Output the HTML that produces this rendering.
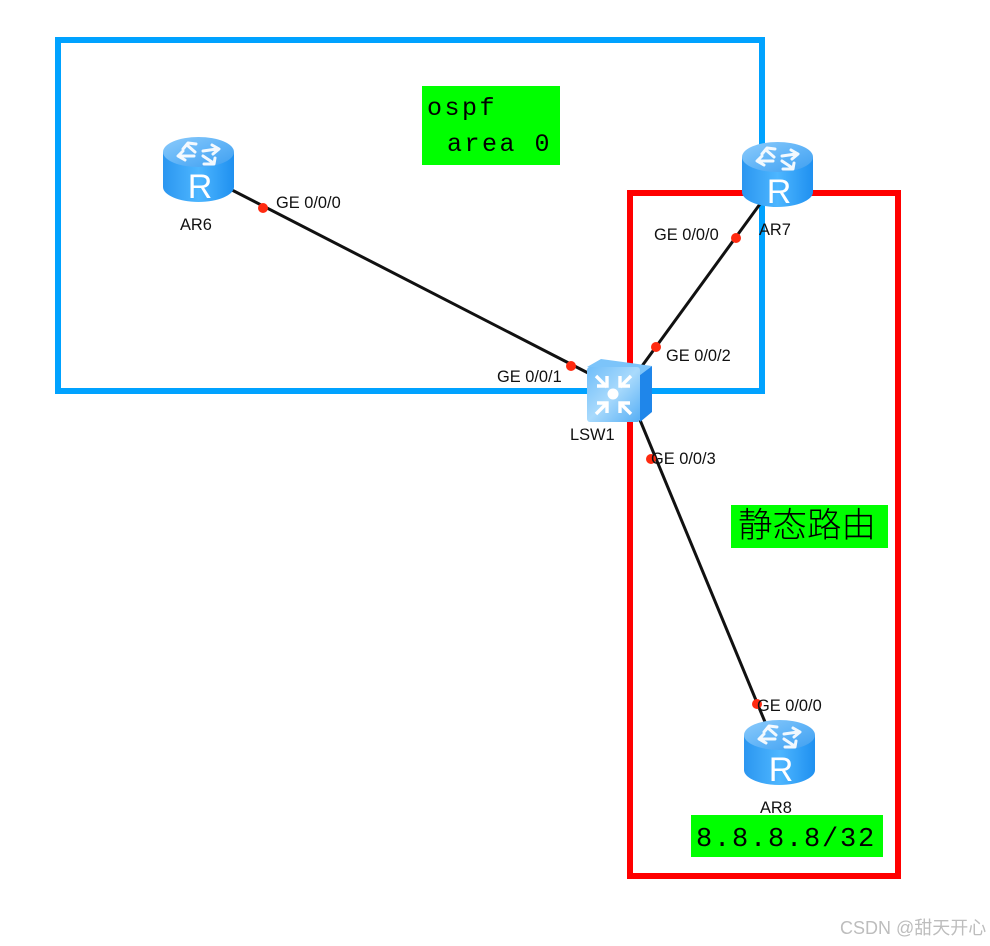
<!DOCTYPE html>
<html><head><meta charset="utf-8"><style>
html,body{margin:0;padding:0;background:#fff}
svg{display:block}
.l{font-family:"Liberation Sans",sans-serif;font-size:16.4px;fill:#111}
.m{font-family:"Liberation Mono","DejaVu Sans Mono",monospace;fill:#000}
</style></head><body>
<svg width="990" height="946" viewBox="0 0 990 946" xmlns="http://www.w3.org/2000/svg">
<defs>
<linearGradient id="b" x1="0" x2="1" y1="0" y2="0"><stop offset="0" stop-color="#2b96f0"/><stop offset=".5" stop-color="#4db6ff"/><stop offset="1" stop-color="#1f90f0"/></linearGradient>
<linearGradient id="t" x1="0" x2="1" y1="0" y2="1"><stop offset="0" stop-color="#8ccbfb"/><stop offset=".55" stop-color="#5fb3f7"/><stop offset="1" stop-color="#3f9ff0"/></linearGradient>
<linearGradient id="f" x1="0" x2="1" y1="0" y2="1"><stop offset="0" stop-color="#6fbdf9"/><stop offset=".5" stop-color="#a9dafc"/><stop offset="1" stop-color="#55aef5"/></linearGradient>
<g id="r">
<path d="M0 15V50C0 58 16 65 35.5 65S71 58 71 50V15Z" fill="url(#b)"/>
<ellipse cx="35.5" cy="15" rx="35.5" ry="15" fill="url(#t)"/>
<g stroke="#fff" stroke-width="3" fill="none" stroke-linecap="round" stroke-linejoin="round" opacity=".92">
<path d="M32 15L24 8M20 12L25 6L33 7"/><path d="M40 14L54 12M49 8L56 12L50 17"/><path d="M31 19L17 19M20 14L15 19L22 23"/><path d="M40 19L49 25M41 27L51 27L52 21"/>
</g>
</g>
</defs>
<rect x="58" y="40" width="704" height="351" fill="none" stroke="#00a2ff" stroke-width="6"/>
<rect x="630" y="193" width="268" height="683" fill="none" stroke="#ff0000" stroke-width="6"/>
<g stroke="#111" stroke-width="3" fill="none">
<line x1="230" y1="189" x2="590" y2="374"/>
<line x1="760" y1="204" x2="642" y2="366"/>
<line x1="640" y1="420" x2="765" y2="722"/>
</g>
<rect x="422" y="86" width="138" height="79" fill="#00ff00"/>
<text class="m" font-size="25" letter-spacing="2.5" x="427" y="115">ospf</text>
<text class="m" font-size="25" letter-spacing="2.5" x="447" y="151">area 0</text>
<rect x="731" y="505" width="157" height="43" fill="#00ff00"/>
<text x="738" y="537" font-size="34.5" font-family="'Liberation Sans','WenQuanYi Zen Hei','Noto Sans CJK SC',sans-serif" font-weight="200" fill="#000">静态路由</text>
<rect x="691" y="815" width="192" height="42" fill="#00ff00"/>
<text class="m" font-size="27" letter-spacing="1.8" x="696" y="846">8.8.8.8/32</text>
<use href="#r" x="163" y="137"/>
<use href="#r" x="742" y="142"/>
<use href="#r" x="744" y="720"/>
<g font-family="'Liberation Sans',sans-serif" font-size="34" fill="#fff" text-anchor="middle">
<text x="200" y="198">R</text><text x="779" y="203">R</text><text x="781" y="781">R</text>
</g>
<polygon points="587,367 601,359 652,366 640,375" fill="#7cc4fa"/>
<polygon points="640,375 652,366 652,412 640,422" fill="#1f86ea"/>
<rect x="587" y="367" width="53" height="55" rx="3" fill="url(#f)"/>
<circle cx="613" cy="394" r="5.5" fill="#fff"/>
<g stroke="#fff" stroke-width="3.4" fill="none">
<path d="M596 376L607 387M597 386H607V376"/><path d="M631 376L620 387M630 386H620V376"/><path d="M596 414L607 403M597 403H607V413"/><path d="M631 414L620 403M630 403H620V413"/>
</g>
<g fill="#ff2a10">
<circle cx="263" cy="208" r="5"/><circle cx="571" cy="366" r="5"/><circle cx="736" cy="238" r="5"/><circle cx="656" cy="347" r="5"/><circle cx="651" cy="459" r="5"/><circle cx="757" cy="704" r="5"/>
</g>
<text class="l" x="276" y="208">GE 0/0/0</text>
<text class="l" x="654" y="240">GE 0/0/0</text>
<text class="l" x="666" y="361">GE 0/0/2</text>
<text class="l" x="497" y="382">GE 0/0/1</text>
<text class="l" x="651" y="464">GE 0/0/3</text>
<text class="l" x="757" y="711">GE 0/0/0</text>
<text class="l" x="180" y="230">AR6</text>
<text class="l" x="759" y="235">AR7</text>
<text class="l" x="760" y="813">AR8</text>
<text class="l" x="570" y="440">LSW1</text>
<text x="840" y="934" font-size="18" font-family="'Liberation Sans','Noto Sans CJK SC',sans-serif" fill="#bdbdbd">CSDN @甜天开心</text>
</svg>
</body></html>
